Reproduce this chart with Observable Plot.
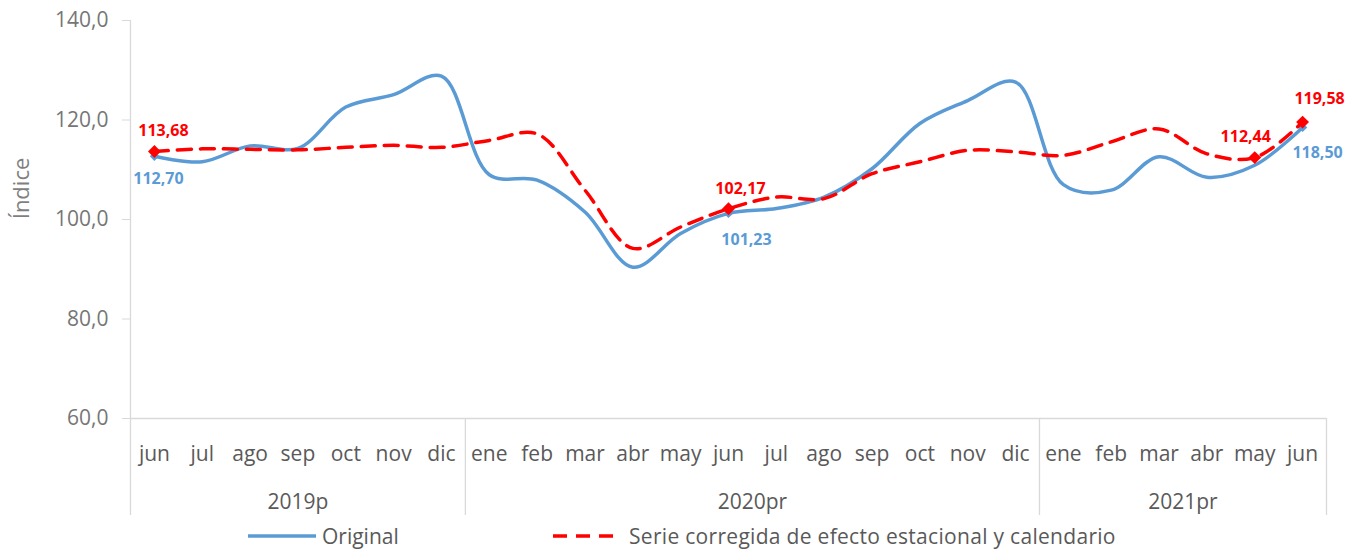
<!DOCTYPE html>
<html>
<head>
<meta charset="utf-8">
<script src="https://cdn.jsdelivr.net/npm/d3@7"></script>
<script src="https://cdn.jsdelivr.net/npm/@observablehq/plot@0.6"></script>
<style>
  body { margin: 0; background: #fff; font-family: "Open Sans", sans-serif; }
  #legend { position: relative; height: 30px; font-size: 21px; color: #595959; }
  .item { position: absolute; top: 0; display: flex; align-items: center; height: 32px; }
  .item svg { margin-right: 6px; }
</style>
</head>
<body>
<div id="chart"></div>
<div id="legend">
  <div class="item" style="left:248px"><svg width="68" height="10"><line x1="0" y1="5" x2="68" y2="5" stroke="#5B9BD5" stroke-width="3.5"/></svg><span>Original</span></div>
  <div class="item" style="left:553px"><svg width="70" height="10"><line x1="0" y1="5" x2="68" y2="5" stroke="#FF0000" stroke-width="3.5" stroke-dasharray="14,9"/></svg><span style="letter-spacing:0.3px">Serie corregida de efecto estacional y calendario</span></div>
</div>
<script>
// Tick labels (months) and year groups
const months = ["jun","jul","ago","sep","oct","nov","dic",
  "ene","feb","mar","abr","may","jun","jul","ago","sep","oct","nov","dic",
  "ene","feb","mar","abr","may","jun"];
const years = ["2019p", "2020pr", "2021pr"];
const yearMonths = [7, 12, 6];

// Series values
const original = [112.70, 111.6, 114.8, 114.3, 122.6, 125.1, 128.8,
  109.0, 107.9, 101.5, 90.4, 97.2, 101.23, 102.2, 104.5, 110.2, 119.3, 123.9, 127.6,
  107.0, 105.9, 112.6, 108.5, 110.9, 118.50];
const ajustada = [113.68, 114.2, 114.1, 114.0, 114.5, 114.9, 114.5,
  115.9, 117.2, 105.9, 94.2, 98.5, 102.17, 104.5, 104.2, 109.2, 111.6, 113.9, 113.6,
  112.9, 115.6, 118.2, 113.2, 112.44, 119.58];

// Labeled points
const redLabeled = [0, 12, 23, 24];
const blueLabeled = [0, 12, 24];
const yTicks = [60, 80, 100, 120, 140];

const fmt = v => v.toFixed(2).replace(".", ",");
const dataO = original.map((v, i) => ({i, v}));
const dataA = ajustada.map((v, i) => ({i, v}));

// group structure
let acc = 0;
const groups = years.map((y, k) => {
  const start = acc; acc += yearMonths[k];
  return {label: y, center: (start + acc - 1) / 2, end: acc - 0.5};
});
const seps = groups.map(g => g.end);

const W = 1358, H = 520, mT = 20, mB = 102, mL = 130, mR = 32;
const frameH = H - mT - mB;
const grid = "#d9d9d9", txt = "#595959", blue = "#5B9BD5", red = "#FF0000";

const redPt = (idx) => dataA.filter(d => idx.includes(d.i));
const bluePt = (idx) => dataO.filter(d => idx.includes(d.i));

const chart = Plot.plot({
  width: W, height: H,
  marginTop: mT, marginBottom: mB, marginLeft: mL, marginRight: mR,
  style: {fontFamily: "Open Sans, sans-serif", background: "#fff"},
  x: {type: "linear", domain: [-0.5, months.length - 0.5], axis: null},
  y: {domain: [60, 140], axis: null},
  marks: [
    // axis lines & separators
    Plot.ruleX([-0.5], {stroke: grid, strokeWidth: 1.3, insetBottom: -(mB - 5)}),
    Plot.ruleX(seps, {stroke: grid, strokeWidth: 1.3, insetTop: frameH, insetBottom: -(mB - 5)}),
    Plot.ruleY([60], {stroke: grid, strokeWidth: 1.3}),
    Plot.axisY({ticks: yTicks, tickSize: 8, tickPadding: 14, stroke: grid, fill: "#767676",
      tickFormat: d => d.toFixed(1).replace(".", ","), fontSize: 21, label: null}),
    Plot.text(["Índice"], {frameAnchor: "left", textAnchor: "middle", rotate: -90, dx: -109, dy: -31,
      fontSize: 22, fill: "#7f7f7f"}),
    Plot.axisX({ticks: d3.range(months.length), tickFormat: i => months[i], tickSize: 0,
      tickPadding: 28, fontSize: 21, fill: txt, label: null}),
    Plot.text(groups, {x: "center", text: "label", frameAnchor: "bottom", lineAnchor: "middle", dy: 84,
      fontSize: 21, fill: txt}),
    // series
    Plot.line(dataO, {x: "i", y: "v", curve: "catmull-rom", stroke: blue, strokeWidth: 3.5}),
    Plot.dot(bluePt(blueLabeled), {x: "i", y: "v", symbol: "diamond2", r: 4.2, fill: blue, stroke: null}),
    Plot.line(dataA, {x: "i", y: "v", curve: "catmull-rom", stroke: red, strokeWidth: 3.5,
      strokeDasharray: "14,9"}),
    Plot.dot(redPt(redLabeled), {x: "i", y: "v", symbol: "diamond2", r: 5.8, fill: red, stroke: null}),
    // labels
    Plot.text(redPt([0]), {x: "i", y: "v", text: d => fmt(d.v), dx: 9, dy: -21, fill: red, fontWeight: "bold", fontSize: 16}),
    Plot.text(redPt([12]), {x: "i", y: "v", text: d => fmt(d.v), dx: 12, dy: -20, fill: red, fontWeight: "bold", fontSize: 16}),
    Plot.text(redPt([23]), {x: "i", y: "v", text: d => fmt(d.v), dx: -9, dy: -21, fill: red, fontWeight: "bold", fontSize: 16}),
    Plot.text(redPt([24]), {x: "i", y: "v", text: d => fmt(d.v), dx: 17, dy: -23, fill: red, fontWeight: "bold", fontSize: 16}),
    Plot.text(bluePt([0]), {x: "i", y: "v", text: d => fmt(d.v), dx: 4, dy: 23, fill: blue, fontWeight: "bold", fontSize: 16}),
    Plot.text(bluePt([12]), {x: "i", y: "v", text: d => fmt(d.v), dx: 18, dy: 26, fill: blue, fontWeight: "bold", fontSize: 16}),
    Plot.text(bluePt([24]), {x: "i", y: "v", text: d => fmt(d.v), dx: 15, dy: 25, fill: blue, fontWeight: "bold", fontSize: 16})
  ]
});
document.getElementById("chart").appendChild(chart);
</script>
</body>
</html>
